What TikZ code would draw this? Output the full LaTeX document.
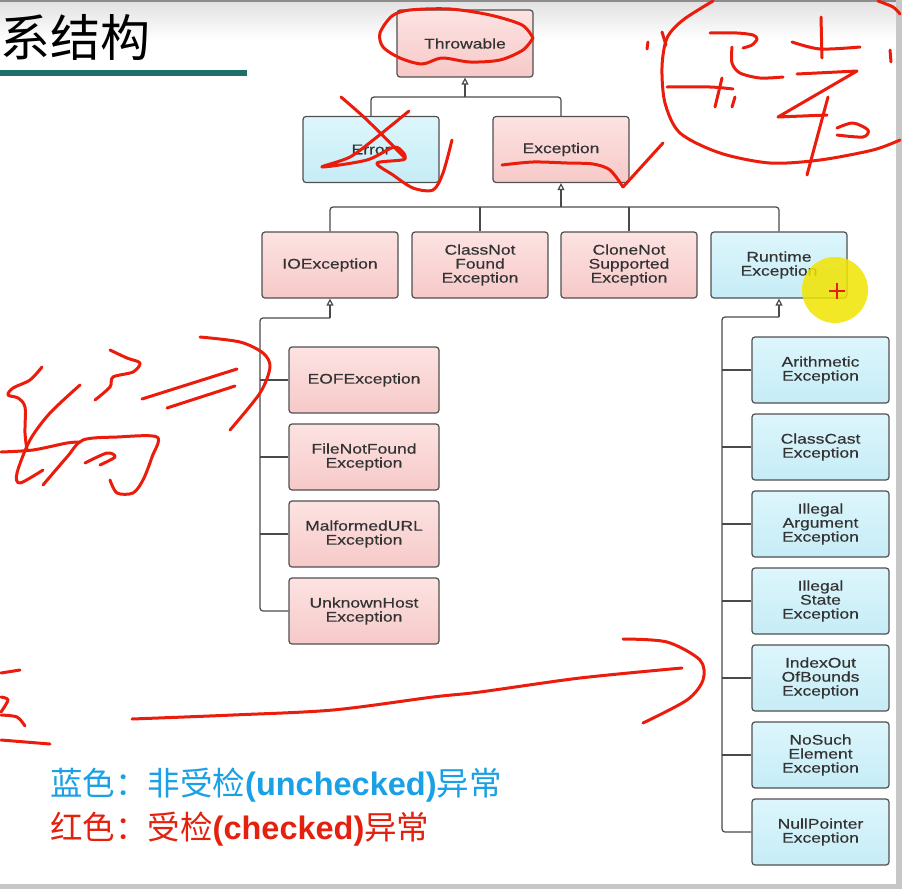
\documentclass[tikz,border=0pt]{standalone}
\usepackage{fontspec}
\setmainfont{Liberation Sans}
\newfontfamily\boxfont[FakeStretch=1.25,FakeBold=0.4]{Liberation Sans}
\newfontfamily\lsans{Liberation Sans}
\newfontfamily\cjk{Noto Sans CJK SC}
\usetikzlibrary{arrows.meta,calc}
\definecolor{boxline}{HTML}{505050}
\definecolor{boxtext}{HTML}{333333}
\definecolor{connc}{HTML}{4A4A4A}
\definecolor{pinkT}{HTML}{FCE3E2}
\definecolor{pinkB}{HTML}{F6C9C8}
\definecolor{blueT}{HTML}{DDF6FC}
\definecolor{blueB}{HTML}{C6ECF6}
\definecolor{inkred}{HTML}{EC1C0C}
\definecolor{legblue}{HTML}{1AA0E4}
\definecolor{legred}{HTML}{E4200E}
\definecolor{teal}{HTML}{1E6E6A}
\definecolor{hl}{HTML}{F2E400}
\tikzset{
  box/.style={draw=boxline, line width=1.2pt, rounded corners=3pt,
    minimum width=136pt, minimum height=66pt, align=center, inner sep=2pt,
    font=\boxfont\fontsize{14}{14}\selectfont, text=boxtext},
  pinkbox/.style={box, top color=pinkT, bottom color=pinkB},
  bluebox/.style={box, top color=blueT, bottom color=blueB},
  conn/.style={draw=connc, line width=1.2pt, rounded corners=3pt},
  gen/.style={draw=connc, line width=1.2pt, -{Triangle[open,length=7pt,width=7pt]}},
  ink/.style={draw=inkred, line width=3pt, line cap=round, line join=round},
}
\begin{document}
\begin{tikzpicture}[x=1pt,y=-1pt]
\useasboundingbox (0,0) rectangle (902,889);
% background
\fill[white] (0,0) rectangle (902,889);
\shade[top color=black!12, bottom color=white] (0,0) rectangle (902,40);
\fill[black!45] (0,0) rectangle (902,2);
\fill[black!22] (896,0) rectangle (902,889);
\fill[black!22] (0,884) rectangle (902,889);
% title
\node[anchor=west, inner sep=0pt, font=\cjk\fontsize{50}{50}\selectfont] (title) at (0,37) {系结构};
\fill[teal] (0,70) rectangle (247,76);
% boxes
\node[pinkbox, minimum height=67pt] (thr) at (465,43.5) {Throwable};
\node[bluebox] (err) at (371,149.5) {Error};
\node[pinkbox] (exc) at (561,149.5) {Exception};
\node[pinkbox] (io) at (330,265) {IOException};
\node[pinkbox] (cn) at (480,265) {ClassNot\\Found\\Exception};
\node[pinkbox] (cs) at (629,265) {CloneNot\\Supported\\Exception};
\node[bluebox] (rt) at (779,265) {Runtime\\Exception};
\node[pinkbox, minimum width=150pt] (eof) at (364,380) {EOFException};
\node[pinkbox, minimum width=150pt] (fnf) at (364,457) {FileNotFound\\Exception};
\node[pinkbox, minimum width=150pt] (mal) at (364,534) {MalformedURL\\Exception};
\node[pinkbox, minimum width=150pt] (uh) at (364,611) {UnknownHost\\Exception};
\node[bluebox, minimum width=137pt] (ar) at (820.5,370) {Arithmetic\\Exception};
\node[bluebox, minimum width=137pt] (cc) at (820.5,447) {ClassCast\\Exception};
\node[bluebox, minimum width=137pt] (ia) at (820.5,524) {Illegal\\Argument\\Exception};
\node[bluebox, minimum width=137pt] (is) at (820.5,601) {Illegal\\State\\Exception};
\node[bluebox, minimum width=137pt] (ib) at (820.5,678) {IndexOut\\OfBounds\\Exception};
\node[bluebox, minimum width=137pt] (ns) at (820.5,755) {NoSuch\\Element\\Exception};
\node[bluebox, minimum width=137pt] (np) at (820.5,832) {NullPointer\\Exception};
% connectors
\coordinate (j1) at (465,97);
\draw[conn] (err.north) |- (j1) -| (exc.north);
\draw[gen] (j1) -- (thr.south);
\coordinate (j2) at (561,207);
\draw[conn] (io.north) |- (j2) -| (rt.north);
\draw[conn] (cn.north) -- (cn.north |- j2);
\draw[conn] (cs.north) -- (cs.north |- j2);
\draw[gen] (j2) -- (exc.south);
\coordinate (j3) at (330,318);
\coordinate (l1) at (260,318);
\draw[conn] (j3) -- (l1) |- (uh.west);
\draw[gen] (j3) -- (io.south);
\foreach \n in {eof,fnf,mal}{\draw[conn] (\n.west) -- (\n.west -| l1);}
\coordinate (j4) at (779,317);
\coordinate (r1) at (722,317);
\draw[conn] (j4) -- (r1) |- (np.west);
\draw[gen] (j4) -- (rt.south);
\foreach \n in {ar,cc,ia,is,ib,ns}{\draw[conn] (\n.west) -- (\n.west -| r1);}
% legend
\node[anchor=west, inner sep=0pt, text=legblue, font=\fontsize{32.5}{32.5}\selectfont] (leg1) at (50,785)
  {{\cjk 蓝色：非受检}{\lsans\bfseries (unchecked)}{\cjk 异常}};
\node[anchor=west, inner sep=0pt, text=legred, font=\fontsize{32.5}{32.5}\selectfont] (leg2) at (50,829)
  {{\cjk 红色：受检}{\lsans\bfseries (checked)}{\cjk 异常}};
% cursor highlight
\fill[hl, opacity=0.85] (835,290) circle (33);
\draw[inkred, line width=2pt] (829,291) -- (845,291) (837,283) -- (837,299);
% handwriting
\draw[ink] plot[smooth] coordinates {(533,38) (522,25) (490,15) (450,9) (410,10) (392,16) (380,33) (383,47) (400,58) (422,64) (442,58) (470,62) (500,60) (523,50) (533,38)};
\draw[ink] plot[smooth] coordinates {(341,97) (367,120) (405,158)};
\draw[ink] plot[smooth] coordinates {(409,111) (377,137) (350,157) (322,167) (367,160) (395,147) (405,159) (377,163) (393,175) (413,188) (433,190) (443,173) (452,140)};
\draw[ink] plot[smooth] coordinates {(502,165) (533,162) (567,163) (593,164) (610,170) (623,187)};
\draw[ink] (623,187) -- (663,143);
\draw[ink] plot[smooth] coordinates {(713,1) (683,20) (667,38) (662,67) (665,103) (680,133) (720,153) (770,163) (820,160) (873,150) (900,140)};
\draw[ink] plot[smooth] coordinates {(878,1) (893,7) (900,14)};
\draw[ink] (662,32) -- (666,45);
\draw[ink] (648,42) -- (647,49);
\draw[ink] (890,50) -- (891,62);
\draw[ink] plot[smooth] coordinates {(710,33) (737,33) (753,35) (757,39) (752,45) (743,48)};
\draw[ink] plot[smooth] coordinates {(732,47) (732,63) (740,73) (760,78) (783,77)};
\draw[ink] plot[smooth] coordinates {(667,87) (710,87) (733,89)};
\draw[ink] (722,78) -- (715,107);
\draw[ink] (735,97) -- (732,107);
\draw[ink] (821,17) -- (822,58);
\draw[ink] plot[smooth] coordinates {(792,42) (820,49) (860,47)};
\draw[ink] (797,74) -- (857,71) -- (778,117) -- (827,115);
\draw[ink] plot[smooth] coordinates {(837,128) (853,123) (868,130) (863,137) (837,135)};
\draw[ink] (828,97) -- (807,175);
% left
\draw[ink] plot[smooth] coordinates {(42,367) (30,380) (13,388) (8,395) (18,398) (25,407) (25,433) (27,450)};
\draw[ink] plot[smooth] coordinates {(80,385) (50,413) (30,440) (17,473) (20,483) (43,470)};
\draw[ink] plot[smooth] coordinates {(1,452) (33,450) (67,443) (80,442)};
\draw[ink] plot[smooth] coordinates {(110,350) (127,358) (140,363) (133,372) (113,377) (110,387) (95,400)};
\draw[ink] plot[smooth] coordinates {(43,485) (67,457) (83,440) (117,437) (157,437) (152,457) (143,480) (133,493) (117,493) (110,480)};
\draw[ink] plot[smooth] coordinates {(85,463) (107,453) (115,457) (100,465)};
\draw[ink] (142,399) -- (237,369);
\draw[ink] (167,408) -- (235,386);
\draw[ink] plot[smooth] coordinates {(200,337) (240,342) (263,353) (270,367) (260,393) (230,430)};
% bottom
\draw[ink] (1,673) -- (20,670);
\draw[ink] plot[smooth] coordinates {(1,697) (8,700) (1,712)};
\draw[ink] plot[smooth] coordinates {(1,715) (17,717) (25,726)};
\draw[ink] (1,740) -- (50,744);
\draw[ink] plot[smooth] coordinates {(132,719) (233,715) (333,710) (433,697) (480,692) (580,678) (682,668)};
\draw[ink] plot[smooth] coordinates {(623,639) (667,642) (700,660) (703,680) (687,700) (643,723)};
\end{tikzpicture}
\end{document}
